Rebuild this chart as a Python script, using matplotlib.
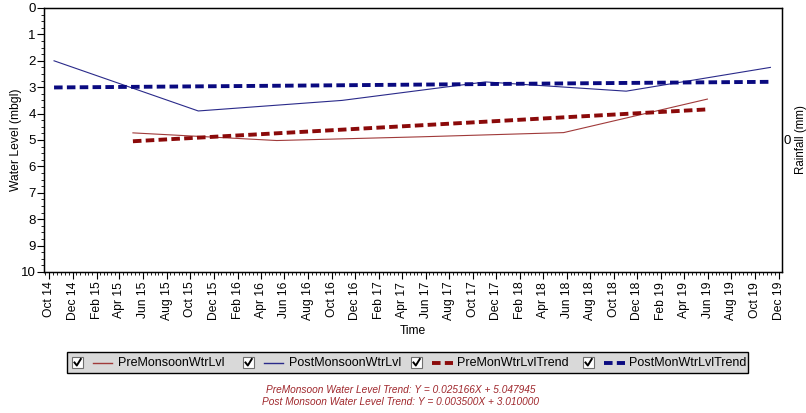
import numpy as np
import pandas as pd
import matplotlib
matplotlib.use("Agg")
import matplotlib.pyplot as plt
import matplotlib.dates as mdates
from matplotlib.patches import Rectangle

plt.rcParams['font.family'] = ['Liberation Sans', 'DejaVu Sans']

# vannstand (mbgl) for og etter monsun
pre_dato = pd.to_datetime(['2015-05-06', '2016-05-12', '2017-05-18', '2018-05-24', '2019-05-31'])
pre_niva = [4.73, 5.02, 4.88, 4.72, 3.45]

post_dato = pd.to_datetime(['2014-10-14', '2015-10-22', '2016-10-28', '2017-11-03', '2018-11-02', '2019-11-10'])
post_niva = [2.0, 3.9, 3.5, 2.8, 3.15, 2.25]

# trendlinjer: Y = a*X + b, X i maaneder fra forste maaling
pre_a, pre_b = 0.025166, 5.047945
post_a, post_b = 0.003500, 3.010000

etiketter = ['PreMonsoonWtrLvl', 'PostMonsoonWtrLvl', 'PreMonWtrLvlTrend', 'PostMonWtrLvlTrend']
farger = ['#a03a3a', '#2a2a8a', '#8b0a0a', '#0a0a80']


def trend(dato, a, b):
    mnd = np.array([(d.year - dato[0].year) * 12 + d.month - dato[0].month for d in dato])
    return b - a * mnd


fig = plt.figure(figsize=(8.06, 4.13), dpi=100)
W, H = 806, 413
ax = fig.add_axes([44 / W, 1 - 272 / H, (782 - 44) / W, 264 / H])

ax.plot(pre_dato, pre_niva, color=farger[0], lw=0.8)
ax.plot(post_dato, post_niva, color=farger[1], lw=0.8)
ax.plot(pre_dato, trend(pre_dato, pre_a, pre_b), color=farger[2], lw=2.8, dashes=(2.2, 1.1))
ax.plot(post_dato, trend(post_dato, post_a, post_b), color=farger[3], lw=2.8, dashes=(2.2, 1.1))

ax.set_ylim(10, 0)
ax.set_yticks(range(0, 11))
ax.yaxis.set_minor_locator(plt.MultipleLocator(0.25))
ax.set_xlim(pd.Timestamp('2014-09-18'), pd.Timestamp('2019-12-10'))
ax.xaxis.set_major_locator(mdates.MonthLocator(bymonth=[2, 4, 6, 8, 10, 12]))
ax.xaxis.set_major_formatter(mdates.DateFormatter('%b %y'))
ax.xaxis.set_minor_locator(mdates.DayLocator(bymonthday=[1, 11, 21]))
ax.tick_params(axis='x', which='major', rotation=90, labelsize=8.7, length=5, pad=2)
ax.tick_params(axis='y', which='major', labelsize=9.5, length=5, pad=1)
ax.tick_params(which='minor', length=2.5)
for s in ax.spines.values():
    s.set_linewidth(1.0)
ax.set_ylabel('Water Level (mbgl)', fontsize=8.7)
ax.yaxis.set_label_coords(-0.030, 0.5)
ax.set_xlabel('Time', fontsize=8.7, labelpad=3)

# nedbor-akse til hoyre (bare 0)
ax2 = ax.twinx()
ax2.set_ylim(-1, 1)
ax2.set_yticks([0])
ax2.tick_params(axis='y', length=0, pad=1, labelsize=9.5)
fig.text(801 / W, 1 - 140 / H, 'Rainfall (mm)', rotation=90, ha='center', va='center', fontsize=8.3)

# forklaring med avkrysningsbokser
lax = fig.add_axes([0, 0, 1, 1])
lax.set_xlim(0, W)
lax.set_ylim(H, 0)
lax.axis('off')
lax.add_patch(Rectangle((67, 352), 681, 21, facecolor='#d9d9d9', edgecolor='black', lw=1))
boks_x = [72, 243, 411, 583]
for i, bx in enumerate(boks_x):
    lax.add_patch(Rectangle((bx, 357), 11, 11, facecolor='white', edgecolor='#707070', lw=0.8))
    lax.plot([bx + 2.5, bx + 4.8, bx + 8.8], [362.5, 365.5, 359], color='black', lw=1.4)
    if i < 2:
        lax.plot([bx + 21, bx + 40], [362.5, 362.5], color=farger[i], lw=1.0)
    else:
        lax.plot([bx + 21, bx + 42], [362.5, 362.5], color=farger[i], lw=2.8, dashes=(2.2, 1.1))
    lax.text(bx + 46, 363, etiketter[i], fontsize=9, va='center', ha='left')

lax.text(401, 390, 'PreMonsoon Water Level Trend: Y = %.6fX + %.6f' % (pre_a, pre_b),
         color='#a0282d', style='italic', fontsize=7.3, ha='center', va='center')
lax.text(401, 402, 'Post Monsoon Water Level Trend: Y = %.6fX + %.6f' % (post_a, post_b),
         color='#a0282d', style='italic', fontsize=7.3, ha='center', va='center')

fig.savefig('out.png', dpi=100)
